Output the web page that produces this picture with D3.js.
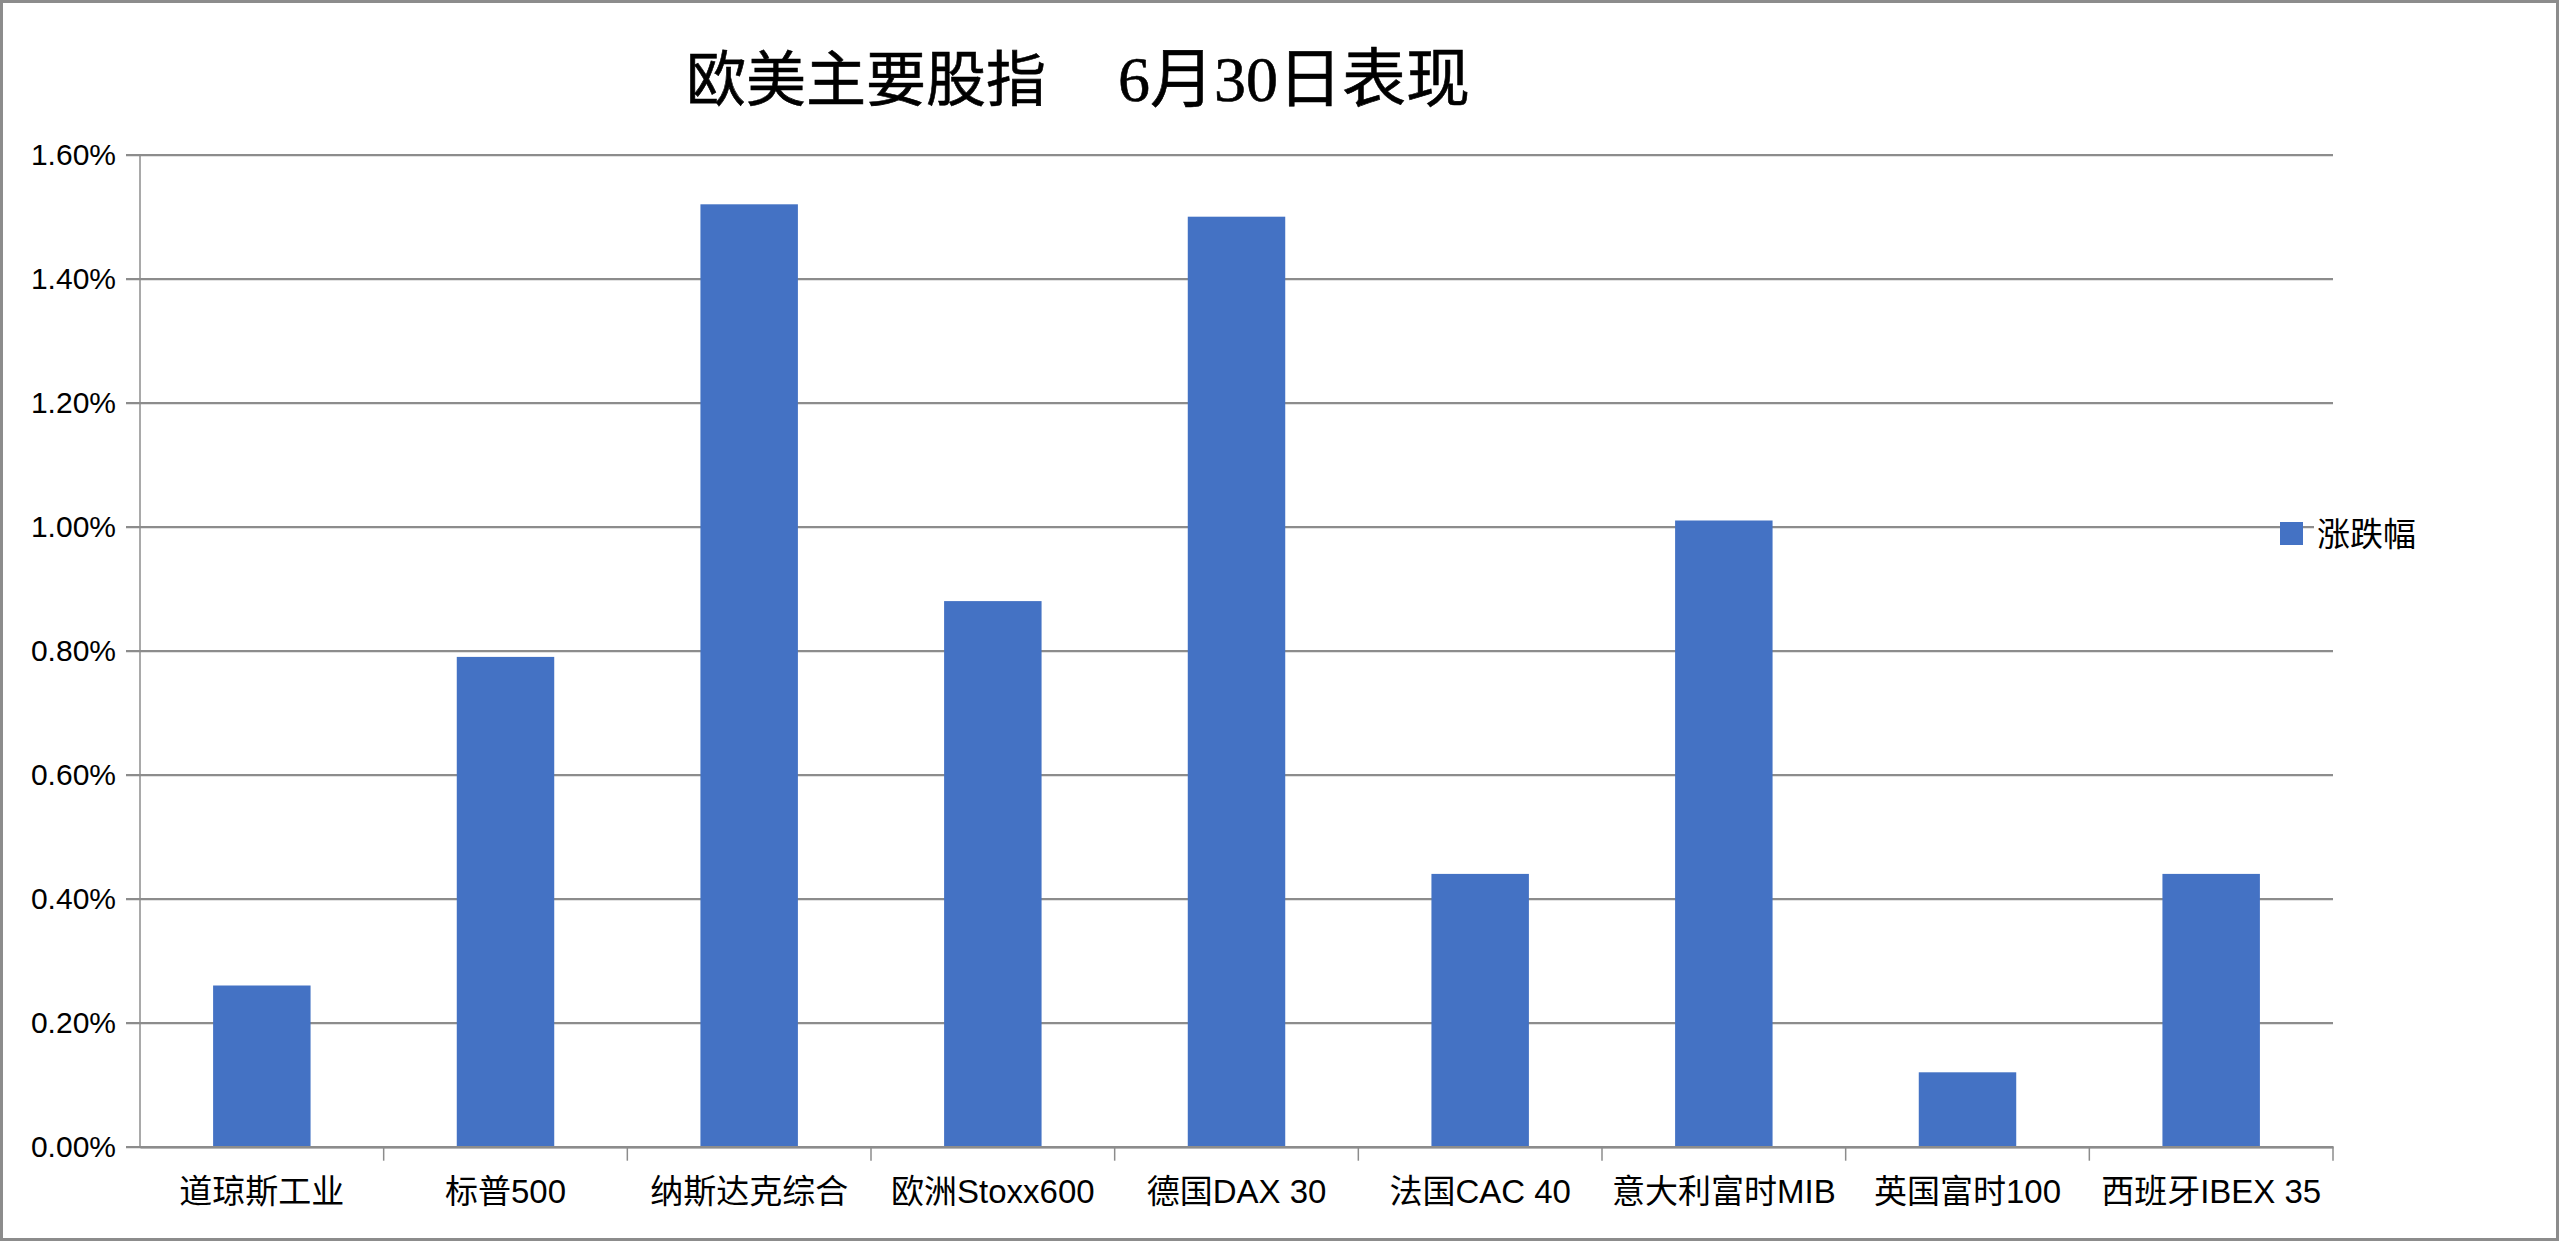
<!DOCTYPE html>
<html>
<head>
    <meta charset="utf-8">
    <title>欧美主要股指 6月30日表现</title>
    <style>
        html, body { margin: 0; padding: 0; background: #fff; }
        .tick-label { font-family: "Liberation Sans", "Noto Sans CJK SC", sans-serif; fill: #000; }
        .cat-label { font-family: "Liberation Sans", "Noto Sans CJK SC", sans-serif; fill: #000; }
        .title { font-family: "Liberation Serif", "Noto Sans CJK SC", serif; fill: #000; white-space: pre; }
    </style>
</head>
<body>
    <div id="chart"></div>

    <script src="https://d3js.org/d3.v7.min.js"></script>
    <script>
        // 数据
        var categories = ["道琼斯工业", "标普500", "纳斯达克综合", "欧洲Stoxx600", "德国DAX 30",
            "法国CAC 40", "意大利富时MIB", "英国富时100", "西班牙IBEX 35"];
        var values = [0.0026, 0.0079, 0.0152, 0.0088, 0.0150, 0.0044, 0.0101, 0.0012, 0.0044];
        var yTicks = [0, 0.002, 0.004, 0.006, 0.008, 0.010, 0.012, 0.014, 0.016];
        var seriesName = "涨跌幅";
        var titleParts = ["欧美主要股指", "6月30日表现"];

        var width = 2560;
        var height = 1242;
        var plot = { left: 140, right: 2333, top: 154.7, bottom: 1146.7 };
        var gridColor = "#8c8c8c";
        var barColor = "#4472c4";

        var svg = d3.select("#chart")
            .append("svg")
            .attr("width", width)
            .attr("height", height);

        // 外框
        svg.append("rect")
            .attr("x", 1.5).attr("y", 1.5)
            .attr("width", width - 4).attr("height", height - 4)
            .attr("fill", "#fff")
            .attr("stroke", "#8c8c8c")
            .attr("stroke-width", 3);

        var x = d3.scaleBand()
            .domain(categories)
            .range([plot.left, plot.right])
            .paddingInner(0.6)
            .paddingOuter(0.3);

        var xCat = d3.scaleBand()
            .domain(categories)
            .range([plot.left, plot.right]);

        var y = d3.scaleLinear()
            .domain([0, 0.016])
            .range([plot.bottom, plot.top]);

        // 网格线 + y 轴
        var yAxis = d3.axisLeft(y)
            .tickValues(yTicks)
            .tickSize(plot.right - plot.left + 14)
            .tickFormat(d3.format(".2%"));

        var gy = svg.append("g")
            .attr("transform", "translate(" + plot.right + ",0)")
            .call(yAxis);
        gy.select(".domain").remove();
        gy.selectAll(".tick line")
            .attr("stroke", gridColor)
            .attr("stroke-width", 2.2);
        gy.selectAll(".tick text")
            .attr("class", "tick-label")
            .attr("x", -(plot.right - plot.left) - 24)
            .attr("dy", "0.34em")
            .style("font-size", "30px");

        // 左轴线
        svg.append("line")
            .attr("x1", plot.left).attr("x2", plot.left)
            .attr("y1", plot.top).attr("y2", plot.bottom)
            .attr("stroke", gridColor)
            .attr("stroke-width", 1.5);

        // 柱子
        svg.selectAll(".bar")
            .data(values)
            .enter().append("rect")
            .attr("class", "bar")
            .attr("x", function (d, i) { return x(categories[i]); })
            .attr("width", x.bandwidth())
            .attr("y", function (d) { return y(d); })
            .attr("height", function (d) { return y(0) - y(d); })
            .attr("fill", barColor);

        // x 轴
        var xAxis = d3.axisBottom(xCat)
            .tickSize(0)
            .tickFormat(function (d) { return d; });
        var gx = svg.append("g")
            .attr("transform", "translate(0," + plot.bottom + ")")
            .call(xAxis);
        gx.select(".domain")
            .attr("stroke", gridColor)
            .attr("stroke-width", 2.5);
        gx.selectAll(".tick text")
            .attr("class", "cat-label")
            .attr("y", 45)
            .attr("dy", "0.34em")
            .style("font-size", "33px");

        // 类别分隔刻度
        svg.selectAll(".cat-tick")
            .data(categories)
            .enter().append("line")
            .attr("class", "cat-tick")
            .attr("x1", function (d) { return xCat(d) + xCat.bandwidth(); })
            .attr("x2", function (d) { return xCat(d) + xCat.bandwidth(); })
            .attr("y1", plot.bottom)
            .attr("y2", plot.bottom + 14)
            .attr("stroke", gridColor)
            .attr("stroke-width", 1.5);

        // 标题
        var title = svg.append("text")
            .attr("class", "title")
            .attr("x", 686)
            .attr("y", 101)
            .style("font-size", "60px")
            .style("stroke", "#000")
            .style("stroke-width", 0.6);
        title.append("tspan").text(titleParts[0]);
        title.append("tspan").attr("dx", 72).style("font-size", "64px").text(titleParts[1]);

        // 图例
        var legend = svg.append("g")
            .attr("transform", "translate(2280,534)");
        legend.append("rect")
            .attr("x", 34).attr("y", -20)
            .attr("width", 110).attr("height", 40)
            .attr("fill", "#fff");
        legend.append("rect")
            .attr("x", 0).attr("y", -12)
            .attr("width", 23).attr("height", 23)
            .attr("fill", barColor);
        legend.append("text")
            .attr("class", "cat-label")
            .attr("x", 37)
            .attr("dy", "0.36em")
            .style("font-size", "33px")
            .text(seriesName);
    </script>
</body>
</html>
